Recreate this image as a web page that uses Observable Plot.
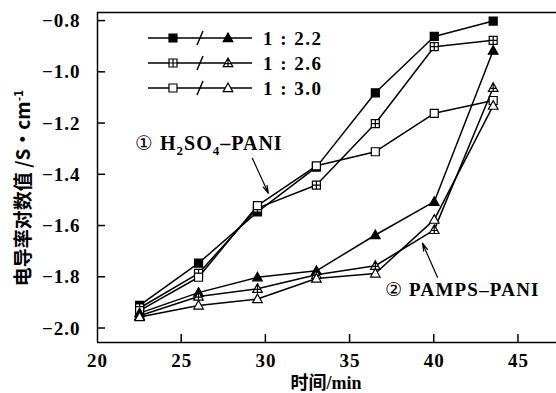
<!DOCTYPE html>
<html><head><meta charset="utf-8">
<script src="https://cdn.jsdelivr.net/npm/d3@7"></script>
<script src="https://cdn.jsdelivr.net/npm/@observablehq/plot@0.6"></script>
<style>body{margin:0;background:#fff} #chart{width:556px;height:393px}</style>
</head><body><div id="chart"></div>
<script>
// ---- data ----
const times = [22.5, 26, 29.5, 33, 36.5, 40, 43.5];
const h2so4_22 = [-1.91, -1.745, -1.545, -1.37, -1.08, -0.86, -0.80];
const h2so4_26 = [-1.92, -1.785, -1.53, -1.44, -1.20, -0.90, -0.875];
const h2so4_30 = [-1.93, -1.80, -1.52, -1.365, -1.31, -1.16, -1.11];
const pamps_22 = [-1.94, -1.86, -1.80, -1.775, -1.635, -1.505, -0.915];
const pamps_26 = [-1.95, -1.875, -1.845, -1.79, -1.755, -1.615, -1.06];
const pamps_30 = [-1.955, -1.91, -1.885, -1.805, -1.785, -1.575, -1.13];
const ratioLabels = ["1 : 2.2", "1 : 2.6", "1 : 3.0"];
const xTicks = [20, 25, 30, 35, 40, 45];
const yTicks = [-2.0, -1.8, -1.6, -1.4, -1.2, -1.0, -0.8];
const xDomain = [20, 47.26];
const yDomain = [-2.0546, -0.7665];
const annotations = [
  {label: "h2so4", tx: 22.26, ty: -1.277, x1: 29.2, y1: -1.336, x2: 30.15, y2: -1.472},
  {label: "pamps", tx: 37.1, ty: -1.85, x1: 40.19, y1: -1.80, x2: 39.3, y2: -1.667}
];

// ---- symbols ----
const symSquare = {draw(c, size){const r=Math.sqrt(size/Math.PI); c.moveTo(-r,-r); c.lineTo(r,-r); c.lineTo(r,r); c.lineTo(-r,r); c.closePath();}};
const symCrossSquare = {draw(c, size){const r=Math.sqrt(size/Math.PI); c.moveTo(-r,-r); c.lineTo(r,-r); c.lineTo(r,r); c.lineTo(-r,r); c.closePath(); c.moveTo(-r,0); c.lineTo(r,0); c.moveTo(0,-r); c.lineTo(0,r);}};
const symTri = {draw(c, size){const r=Math.sqrt(size/Math.PI); c.moveTo(0,-1.25*r); c.lineTo(1.2*r,0.9*r); c.lineTo(-1.2*r,0.9*r); c.closePath();}};
const symCrossTri = {draw(c, size){const r=Math.sqrt(size/Math.PI); c.moveTo(0,-1.25*r); c.lineTo(1.2*r,0.9*r); c.lineTo(-1.2*r,0.9*r); c.closePath(); c.moveTo(0,-1.25*r); c.lineTo(0,0.9*r); c.moveTo(-0.75*r,0.15*r); c.lineTo(0.75*r,0.15*r);}};

const series = [
  {name: "H2SO4 1:2.2", values: h2so4_22, symbol: symSquare, fill: "black"},
  {name: "H2SO4 1:2.6", values: h2so4_26, symbol: symCrossSquare, fill: "white"},
  {name: "H2SO4 1:3.0", values: h2so4_30, symbol: symSquare, fill: "white"},
  {name: "PAMPS 1:2.2", values: pamps_22, symbol: symTri, fill: "black"},
  {name: "PAMPS 1:2.6", values: pamps_26, symbol: symCrossTri, fill: "white"},
  {name: "PAMPS 1:3.0", values: pamps_30, symbol: symTri, fill: "white"}
];
const rows = series.flatMap(s => times.map((t, i) => ({t, v: s.values[i], s: s.name})));

const serif = "'Liberation Serif', 'Times New Roman', serif";
const chart = Plot.plot({
  width: 556, height: 393,
  marginLeft: 97, marginRight: 0, marginTop: 12, marginBottom: 51,
  x: {domain: xDomain},
  y: {domain: yDomain},
  style: {fontFamily: serif, background: "white"},
  marks: [
    Plot.ruleX([xDomain[0]], {stroke: "black", strokeWidth: 1.5}),
    Plot.ruleY(yDomain, {stroke: "black", strokeWidth: 1.5}),
    Plot.axisX({ticks: xTicks, tickSize: 0, tickPadding: 11, tickFormat: d3.format("d"), fontSize: 19, fontWeight: "bold", label: null}),
    Plot.axisY({ticks: yTicks, tickSize: 0, tickPadding: 17, tickFormat: d => d3.format(".1f")(d).replace("-", "\u2212"), fontSize: 19, fontWeight: "bold", label: null}),
    Plot.line(rows, {x: "t", y: "v", z: "s", stroke: "black", strokeWidth: 1.5}),
    ...series.map(s => Plot.dot(rows.filter(d => d.s === s.name), {x: "t", y: "v", r: 4, symbol: s.symbol, fill: s.fill, stroke: "black", strokeWidth: 1.2})),
    Plot.arrow(annotations, {x1: "x1", y1: "y1", x2: "x2", y2: "y2", stroke: "black", strokeWidth: 1.2, headLength: 10, headAngle: 30})
  ]
});
document.getElementById("chart").appendChild(chart);

const svg = d3.select(chart);
svg.selectAll("text").attr("letter-spacing", "1");
const sx = chart.scale("x"), sy = chart.scale("y");

// inward tick marks, positioned through the plot's scales
const x0 = sx.apply(xDomain[0]), y0 = sy.apply(yDomain[0]);
const tg = svg.append("g").attr("stroke", "black").attr("stroke-width", 1.5);
xTicks.filter(d => d > xDomain[0]).forEach(t => {
  const px = sx.apply(t);
  tg.append("line").attr("x1", px).attr("x2", px).attr("y1", y0).attr("y2", y0 - 8);
});
yTicks.forEach(t => {
  const py = sy.apply(t);
  tg.append("line").attr("x1", x0).attr("x2", x0 + 8).attr("y1", py).attr("y2", py);
});

// annotations text
const a1 = annotations[0], a2 = annotations[1];
const t1 = svg.append("text").attr("x", sx.apply(a1.tx)).attr("y", sy.apply(a1.ty)).attr("dy", "0.35em").attr("text-anchor", "start")
  .attr("font-family", serif).attr("font-weight", "bold").attr("font-size", 20).attr("letter-spacing", 1);
t1.append("tspan").attr("font-family", "'DejaVu Sans'").attr("font-weight", "normal").text("\u2460");
t1.append("tspan").text(" H");
t1.append("tspan").attr("font-size", 13).attr("dy", 5).text("2");
t1.append("tspan").attr("dy", -5).text("SO");
t1.append("tspan").attr("font-size", 13).attr("dy", 5).text("4");
t1.append("tspan").attr("dy", -5).text("\u2013PANI");
const t2 = svg.append("text").attr("x", sx.apply(a2.tx)).attr("y", sy.apply(a2.ty)).attr("dy", "0.35em").attr("text-anchor", "start")
  .attr("font-family", serif).attr("font-weight", "bold").attr("font-size", 19).attr("letter-spacing", 1.2);
t2.append("tspan").attr("font-family", "'DejaVu Sans'").attr("font-weight", "normal").text("\u2461");
t2.append("tspan").text(" PAMPS\u2013PANI");

// legend
const legSquares = [series[0], series[1], series[2]];
const legTris = [series[3], series[4], series[5]];
const legY = [38, 63, 88];
const lg = svg.append("g");
ratioLabels.forEach((lab, i) => {
  const y = legY[i];
  lg.append("line").attr("x1", 148).attr("x2", 252).attr("y1", y).attr("y2", y).attr("stroke", "black").attr("stroke-width", 1.5);
  lg.append("line").attr("x1", 197).attr("x2", 203).attr("y1", y + 7).attr("y2", y - 7).attr("stroke", "black").attr("stroke-width", 1.5);
  lg.append("path").attr("transform", `translate(173,${y})`).attr("d", d3.symbol(legSquares[i].symbol, 16 * Math.PI)())
    .attr("fill", legSquares[i].fill).attr("stroke", "black").attr("stroke-width", 1.2);
  lg.append("path").attr("transform", `translate(228,${y})`).attr("d", d3.symbol(legTris[i].symbol, 16 * Math.PI)())
    .attr("fill", legTris[i].fill).attr("stroke", "black").attr("stroke-width", 1.2);
  lg.append("text").attr("x", 263).attr("y", y).attr("dy", "0.35em").attr("text-anchor", "start").attr("font-family", serif).attr("font-weight", "bold")
    .attr("font-size", 19).attr("letter-spacing", 1.5).text(lab);
});

// axis labels
const yl = svg.append("text").attr("transform", "translate(30,188) rotate(-90)").attr("text-anchor", "middle")
  .attr("font-family", "'Noto Sans CJK SC', 'Noto Sans', sans-serif").attr("font-weight", "bold").attr("font-size", 19);
yl.append("tspan").text("电导率对数值 /S·cm");
yl.append("tspan").attr("font-size", 12).attr("dy", -7).text("-1");
const xl = svg.append("text").attr("x", 326).attr("y", 389).attr("text-anchor", "middle").attr("font-weight", "bold").attr("font-size", 18);
xl.append("tspan").attr("font-family", "'Noto Sans CJK SC', sans-serif").text("时间");
xl.append("tspan").attr("font-family", serif).text("/min");
</script></body></html>
